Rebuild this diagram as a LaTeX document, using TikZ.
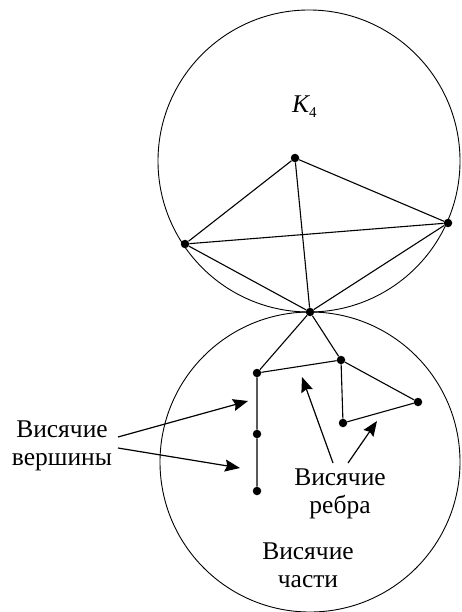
\documentclass[tikz,border=0pt]{standalone}
\usepackage{fontspec}
\setmainfont{Liberation Serif}
\usetikzlibrary{arrows.meta}
\tikzset{
  dot/.style={circle,fill=black,inner sep=0pt,minimum size=8.5pt},
  edge/.style={line width=1.1pt},
  ring/.style={line width=0.9pt},
  pointer/.style={line width=1.2pt,-{Stealth[length=15pt,width=12pt,inset=2pt]}},
  lbl/.style={font=\fontsize{25.5}{28}\selectfont,inner sep=0pt,align=center,anchor=base}
}
\begin{document}
\begin{tikzpicture}[x=1pt,y=-1pt]
\useasboundingbox (0,0) rectangle (461,612);
\draw[ring] (309,161) circle[radius=151];
\draw[ring] (310,462) circle[radius=150];
% K4
\node[dot] (t) at (295,158) {};
\node[dot] (l) at (185,244) {};
\node[dot] (r) at (448,223) {};
\node[dot] (o) at (310,312) {};
\draw[edge] (t) -- (l) (t) -- (r) (t) -- (o) (l) -- (r) (l) -- (o) (r) -- (o);
% lower graph
\node[dot] (a) at (257,373) {};
\node[dot] (b) at (341,360) {};
\node[dot] (c) at (418,402) {};
\node[dot] (d) at (343,423) {};
\node[dot] (e) at (257,434) {};
\node[dot] (f) at (257,491) {};
\draw[edge] (o) -- (a) (o) -- (b) (a) -- (b) (b) -- (c) (b) -- (d) (c) -- (d) (a) -- (e) (e) -- (f);
% labels
\node[lbl,anchor=base west] (k4) at (292,113) {\itshape K\raisebox{-5pt}{\fontsize{15}{15}\selectfont\upshape 4}};
\node[lbl] (lv) at (62,465) {Висячие\\вершины};
\node[lbl] (lr) at (340,513) {Висячие\\ребра};
\node[lbl] (lc) at (308,587) {Висячие\\части};
% arrows
\coordinate (s1) at (118,437); \coordinate (e1) at (248,401);
\coordinate (s2) at (118,448); \coordinate (e2) at (240,468);
\coordinate (s3) at (333,463); \coordinate (e3) at (302,377);
\coordinate (s4) at (348,463); \coordinate (e4) at (377,421);
\draw[pointer] (s1) -- (e1);
\draw[pointer] (s2) -- (e2);
\draw[pointer] (s3) -- (e3);
\draw[pointer] (s4) -- (e4);
\end{tikzpicture}
\end{document}
